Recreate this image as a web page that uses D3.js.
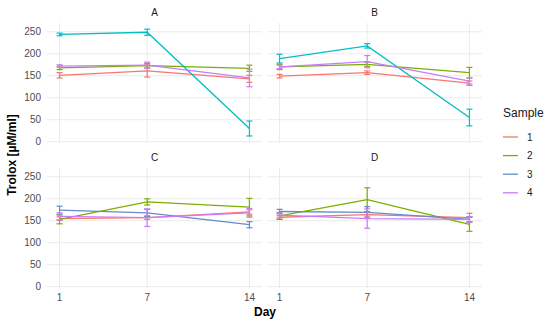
<!DOCTYPE html>
<html>
<head>
<meta charset="utf-8">
<script src="https://cdn.jsdelivr.net/npm/d3@7"></script>
<style>
  body { margin: 0; background: #fff; }
  text { font-family: "Liberation Sans", Arial, sans-serif; }
</style>
</head>
<body>
<div id="my_dataviz"></div>
<script>
// data
const panels = ["A", "B", "C", "D"];
const days = [1, 7, 14];
const samples = ["1", "2", "3", "4"];
const yTicks = [0, 50, 100, 150, 200, 250];

// mean values, one array per sample, per panel
const meansA = [[151, 161, 143], [168, 173, 167], [244, 249, 30], [172, 174, 145]];
const errA   = [[6, 14, 8], [4, 5, 7], [3, 7, 17], [3, 7, 20]];
const meansB = [[149, 157, 133], [170, 176, 157], [189, 218, 55], [170, 182, 138]];
const errB   = [[4, 4, 5], [6, 5, 12], [10, 5, 19], [4, 14, 7]];
const meansC = [[155, 157, 170], [153, 193, 181], [174, 168, 141], [160, 157, 168]];
const errC   = [[4, 4, 5], [10, 7, 20], [9, 8, 7], [8, 20, 10]];
const meansD = [[158, 164, 157], [161, 198, 142], [171, 169, 153], [163, 155, 153]];
const errD   = [[4, 5, 10], [8, 27, 16], [5, 13, 6], [5, 22, 6]];

const sampleColors = ["#F8766D", "#7CAE00", "#00BFC4", "#C77CFF"];
// sample 3 shows up bluer in the lower panels and legend
const sampleColorsLow = ["#F8766D", "#7CAE00", "#6889CC", "#C77CFF"];

const allMeans = [meansA, meansB, meansC, meansD];
const allErr = [errA, errB, errC, errD];

const W = 550, H = 324;
const svg = d3.select("#my_dataviz")
  .append("svg")
  .attr("width", W)
  .attr("height", H);

// panel layout
const colX = [47, 267];
const rowY = [23, 168];
const pw = 215, ph = 120;

const x = d3.scaleLinear().domain([0.14, 14.86]).range([0, pw]);
const y = d3.scaleLinear().domain([-3, 270]).range([ph, 0]);

panels.forEach((p, pi) => {
  const col = pi % 2, row = Math.floor(pi / 2);
  const g = svg.append("g")
    .attr("transform", `translate(${colX[col]},${rowY[row]})`);

  // grid
  g.selectAll(".hg").data(yTicks).join("line")
    .attr("x1", 0).attr("x2", pw)
    .attr("y1", d => y(d)).attr("y2", d => y(d))
    .attr("stroke", "#ebebeb").attr("stroke-width", 1);
  g.selectAll(".vg").data(days).join("line")
    .attr("x1", d => x(d)).attr("x2", d => x(d))
    .attr("y1", 0).attr("y2", ph)
    .attr("stroke", "#ebebeb").attr("stroke-width", 1);

  // strip label
  g.append("text")
    .attr("x", pw / 2).attr("y", -7)
    .attr("text-anchor", "middle")
    .style("font-size", "10px")
    .style("fill", "#1a1a1a")
    .text(p);

  // y tick labels on left column
  if (col === 0) {
    g.selectAll(".yl").data(yTicks).join("text")
      .attr("x", -6).attr("y", d => y(d))
      .attr("dy", "0.35em")
      .attr("text-anchor", "end")
      .style("font-size", "10px")
      .style("fill", "#4d4d4d")
      .text(d => d);
  }
  // x tick labels on bottom row
  if (row === 1) {
    g.selectAll(".xl").data(days).join("text")
      .attr("x", d => x(d)).attr("y", ph + 13)
      .attr("text-anchor", "middle")
      .style("font-size", "10px")
      .style("fill", "#4d4d4d")
      .text(d => d);
  }

  const cols = row === 0 ? sampleColors : sampleColorsLow;
  const line = d3.line().x(d => x(d.day)).y(d => y(d.mean));

  samples.forEach((s, si) => {
    const pts = days.map((d, di) => ({
      day: d,
      mean: allMeans[pi][si][di],
      err: allErr[pi][si][di]
    }));
    const c = cols[si];
    // error bars
    const eb = g.append("g").attr("stroke", c).attr("stroke-width", 1.2);
    eb.selectAll(".v").data(pts).join("line")
      .attr("x1", d => x(d.day)).attr("x2", d => x(d.day))
      .attr("y1", d => y(d.mean - d.err)).attr("y2", d => y(d.mean + d.err));
    eb.selectAll(".t").data(pts).join("line")
      .attr("x1", d => x(d.day) - 3).attr("x2", d => x(d.day) + 3)
      .attr("y1", d => y(d.mean + d.err)).attr("y2", d => y(d.mean + d.err));
    eb.selectAll(".b").data(pts).join("line")
      .attr("x1", d => x(d.day) - 3).attr("x2", d => x(d.day) + 3)
      .attr("y1", d => y(d.mean - d.err)).attr("y2", d => y(d.mean - d.err));
    // line
    g.append("path")
      .datum(pts)
      .attr("d", line)
      .attr("fill", "none")
      .attr("stroke", c)
      .attr("stroke-width", 1.3);
  });
});

// axis titles
svg.append("text")
  .attr("transform", `translate(16,155) rotate(-90)`)
  .attr("text-anchor", "middle")
  .style("font-size", "12px")
  .style("font-weight", "bold")
  .text("Trolox [µM/ml]");
svg.append("text")
  .attr("x", 265).attr("y", 316)
  .attr("text-anchor", "middle")
  .style("font-size", "12px")
  .style("font-weight", "bold")
  .text("Day");

// legend
const leg = svg.append("g").attr("transform", "translate(503,0)");
leg.append("text")
  .attr("x", 0).attr("y", 117)
  .style("font-size", "12px")
  .style("fill", "#1a1a1a")
  .text("Sample");
leg.selectAll(".lk").data(samples).join("line")
  .attr("x1", 0).attr("x2", 15)
  .attr("y1", (d, i) => 137 + i * 18.6).attr("y2", (d, i) => 137 + i * 18.6)
  .attr("stroke", (d, i) => sampleColorsLow[i])
  .attr("stroke-width", 1.3);
leg.selectAll(".lt").data(samples).join("text")
  .attr("x", 24).attr("y", (d, i) => 137 + i * 18.6)
  .attr("dy", "0.35em")
  .style("font-size", "10px")
  .style("fill", "#1a1a1a")
  .text(d => d);
</script>
</body>
</html>
